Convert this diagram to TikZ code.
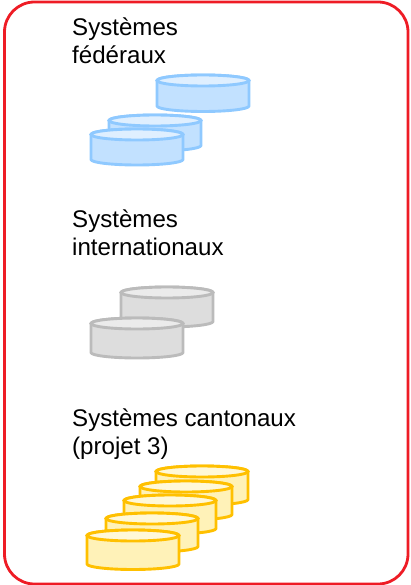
\documentclass[tikz,border=0pt]{standalone}
\usepackage{fontspec}
\setmainfont{Liberation Sans}
\definecolor{frame}{HTML}{EE1C25}
\definecolor{blueS}{HTML}{8FC9FF}\definecolor{blueF}{HTML}{C2E1FF}\definecolor{blueT}{HTML}{DFEFFF}
\definecolor{greyS}{HTML}{BBBBBB}\definecolor{greyF}{HTML}{DDDDDD}\definecolor{greyT}{HTML}{EBEBEB}
\definecolor{yelS}{HTML}{FFC000}\definecolor{yelF}{HTML}{FFF2B8}\definecolor{yelT}{HTML}{FFF8D8}
% #1 stroke, #2 body, #3 top, #4 left, #5 right, #6 top y, #7 bottom y
\newcommand{\disc}[7]{%
  \pgfmathsetmacro{\cxm}{(#4+#5)/2}\pgfmathsetmacro{\rxm}{(#5-#4)/2}%
  \draw[draw=#1,fill=#2,line width=2.9pt,line join=round]
    (#4,#6+5.5) -- (#4,#7-5.5) arc[start angle=180,end angle=360,x radius=\rxm,y radius=-5.5]
    -- (#5,#6+5.5) arc[start angle=0,end angle=180,x radius=\rxm,y radius=-5.5] -- cycle;
  \draw[draw=#1,fill=#3,line width=2.9pt] (\cxm,#6+5.5) ellipse[x radius=\rxm,y radius=5.5];
}
\tikzset{lab/.style={anchor=base west,inner sep=0pt,font=\fontsize{24.1}{27}\selectfont}}
\begin{document}
\begin{tikzpicture}[x=1pt,y=-1pt]
\useasboundingbox (0,0) rectangle (410,585);
\draw[frame,line width=2.8pt,rounded corners=30pt] (4.5,2) rectangle (408,584);
\node[lab] (t1a) at (72,36) {Systèmes};
\node[lab] (t1b) at (72,64) {fédéraux};
\node[lab] (t2a) at (72,227) {Systèmes};
\node[lab] (t2b) at (72,255) {internationaux};
\node[lab] (t3a) at (72,426) {Systèmes cantonaux};
\node[lab] (t3b) at (72,454) {(projet 3)};
\disc{blueS}{blueF}{blueT}{157}{249}{75}{111.5}
\disc{blueS}{blueF}{blueT}{109}{201}{115}{151}
\disc{blueS}{blueF}{blueT}{91}{183}{129}{165}
\disc{greyS}{greyF}{greyT}{121}{213}{287}{327}
\disc{greyS}{greyF}{greyT}{91}{183}{318}{358}
\disc{yelS}{yelF}{yelT}{156}{248}{466}{505}
\disc{yelS}{yelF}{yelT}{140}{232}{481}{520}
\disc{yelS}{yelF}{yelT}{124}{216}{495}{534}
\disc{yelS}{yelF}{yelT}{106}{198}{513}{552}
\disc{yelS}{yelF}{yelT}{87}{179}{530}{569.5}
\end{tikzpicture}
\end{document}
